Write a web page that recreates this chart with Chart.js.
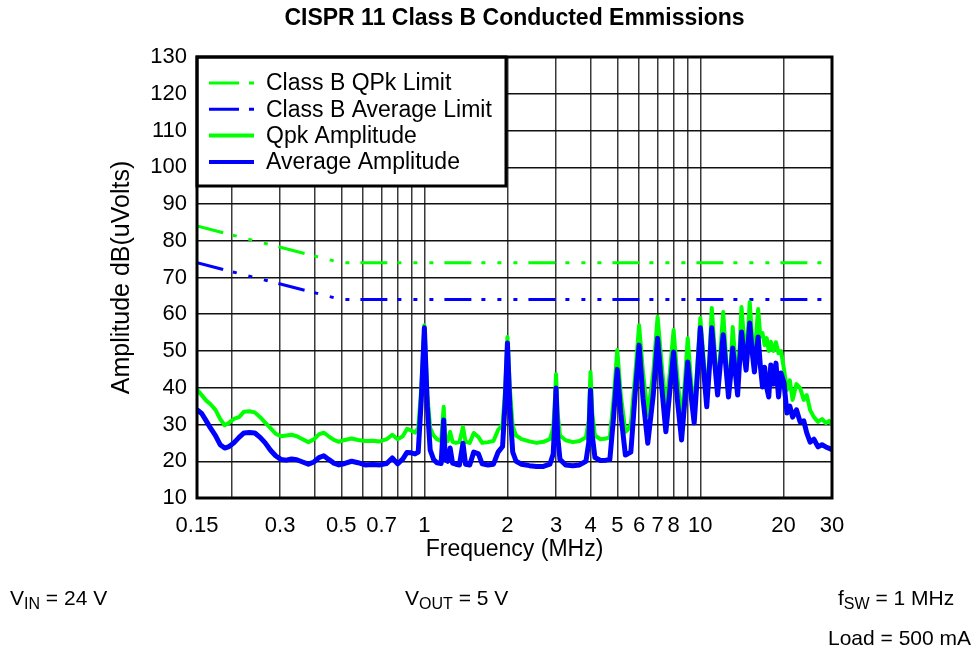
<!DOCTYPE html>
<html>
<head>
<meta charset="utf-8">
<script src="https://cdn.jsdelivr.net/npm/chart.js@4.4.0/dist/chart.umd.min.js"></script>
<style>
  body { margin: 0; background: #fff; }
  #wrap { position: relative; width: 974px; height: 653px; font-family: 'Liberation Sans', Arial, sans-serif; color: #000; }
  .note { position: absolute; font-size: 21px; line-height: 24px; white-space: nowrap; }
  .note sub { font-size: 16px; vertical-align: -4px; }
</style>
</head>
<body>
<div id="wrap">
  <canvas id="emiChart" width="974" height="653"></canvas>
  <div class="note" style="left:10px; top:586px;">V<sub>IN</sub> = 24 V</div>
  <div class="note" style="left:405px; top:586px;">V<sub>OUT</sub> = 5 V</div>
  <div class="note" style="left:838px; top:586px;">f<sub>SW</sub> = 1 MHz</div>
  <div class="note" style="left:828px; top:626px;">Load = 500 mA</div>
</div>
<script>
// frequency points in MHz, shared by both measured traces
const freqs = [
    0.150, 0.156, 0.162, 0.168, 0.175, 0.182, 0.189, 0.196, 0.204, 0.213,
    0.222, 0.232, 0.243, 0.254, 0.265, 0.277, 0.289, 0.302, 0.316, 0.330,
    0.345, 0.362, 0.380, 0.398, 0.415, 0.432, 0.450, 0.470, 0.490, 0.515,
    0.545, 0.575, 0.610, 0.650, 0.690, 0.730, 0.765, 0.800, 0.835, 0.865,
    0.895, 0.925, 0.950, 0.975, 1.000, 1.025, 1.050, 1.080, 1.110, 1.150,
    1.175, 1.190, 1.215, 1.240, 1.265, 1.300, 1.340, 1.380, 1.410, 1.460,
    1.510, 1.570, 1.620, 1.700, 1.780, 1.850, 1.920, 1.965, 2.000, 2.040,
    2.090, 2.150, 2.250, 2.400, 2.550, 2.700, 2.850, 2.930, 2.965, 3.000,
    3.040, 3.100, 3.250, 3.450, 3.650, 3.850, 3.940, 4.000, 4.060, 4.150,
    4.350, 4.550, 4.700, 4.850, 5.000, 5.150, 5.350, 5.450, 5.600, 5.800,
    6.000, 6.200, 6.450, 6.750, 7.000, 7.250, 7.500, 7.750, 8.000, 8.250,
    8.550, 8.800, 9.000, 9.250, 9.500, 9.750, 10.00, 10.30, 10.55, 10.80,
    11.00, 11.30, 11.55, 11.80, 12.10, 12.40, 12.65, 12.90, 13.10, 13.40,
    13.65, 13.90, 14.10, 14.40, 14.65, 14.90, 15.10, 15.40, 15.70, 15.95,
    16.20, 16.50, 16.80, 17.10, 17.40, 17.70, 18.00, 18.40, 18.80, 19.20,
    19.60, 20.10, 20.60, 21.10, 21.60, 22.30, 23.00, 23.70, 24.30, 25.00,
    25.80, 26.70, 27.60, 28.50, 29.30, 30.00
];

const qpkAmp = [
    39.5, 38.0, 36.5, 35.5, 34.0, 31.5, 29.8, 30.5, 31.5, 32.0,
    33.5, 33.6, 33.3, 32.0, 30.5, 29.0, 27.5, 26.8, 27.0, 27.2,
    26.8, 26.0, 25.2, 26.0, 27.3, 27.8, 26.8, 25.8, 25.3, 25.8,
    26.2, 25.8, 25.5, 25.6, 25.4, 26.0, 27.2, 26.0, 26.8, 28.8,
    28.4, 27.8, 29.0, 40.0, 57.0, 38.0, 29.0, 27.0, 26.0, 25.5,
    34.8, 26.0, 25.5, 28.0, 25.3, 25.0, 25.2, 29.3, 25.3, 25.0,
    27.7, 26.6, 25.0, 25.2, 25.5, 28.5, 30.0, 40.0, 53.8, 40.0,
    29.5, 27.0, 26.0, 25.4, 25.0, 25.3, 26.0, 29.0, 35.0, 43.7,
    33.0, 27.0, 25.7, 25.2, 25.5, 26.5, 31.0, 44.3, 33.0, 27.0,
    26.0, 26.2, 26.5, 37.0, 50.3, 38.0, 28.0, 28.5, 30.0, 43.0,
    57.0, 44.0, 32.6, 44.0, 59.3, 46.0, 33.9, 44.0, 55.7, 43.0,
    31.2, 42.0, 53.5, 42.0, 33.1, 46.0, 59.0, 47.0, 37.5, 49.0,
    61.7, 49.0, 39.4, 49.0, 60.6, 48.0, 38.5, 47.0, 56.5, 47.0,
    38.5, 52.0, 62.0, 53.0, 48.4, 56.0, 63.3, 54.0, 47.0, 55.0,
    61.4, 54.0, 54.9, 51.6, 53.5, 50.0, 52.5, 50.0, 52.4, 49.4,
    50.0, 45.0, 39.4, 42.0, 36.7, 41.0, 39.9, 36.7, 38.0, 33.9,
    32.0, 30.7, 31.5, 30.4, 31.0, 29.9
];

const avgAmp = [
    34.0, 33.0, 31.0, 29.0, 27.0, 24.5, 23.6, 24.0, 25.0, 26.5,
    27.7, 27.8, 27.7, 26.5, 25.0, 23.0, 21.5, 20.5, 20.3, 20.6,
    20.4, 19.8, 19.2, 19.8, 21.0, 21.5, 20.5, 19.5, 19.0, 19.4,
    20.0, 19.6, 19.0, 19.1, 19.0, 19.4, 20.9, 19.3, 20.6, 22.4,
    22.3, 22.0, 22.5, 37.0, 56.3, 35.0, 23.0, 20.5, 19.6, 19.4,
    31.2, 20.5, 20.0, 23.6, 19.5, 19.2, 19.0, 24.9, 19.2, 19.0,
    22.5, 22.0, 19.3, 19.0, 19.2, 22.5, 24.0, 37.0, 52.2, 35.0,
    22.5, 20.0, 19.2, 18.8, 18.6, 18.6, 19.2, 22.0, 30.0, 39.9,
    27.0, 20.5, 19.0, 18.8, 19.0, 20.0, 25.0, 39.4, 27.0, 21.0,
    20.2, 20.3, 20.5, 32.0, 45.0, 33.0, 21.7, 22.0, 22.5, 38.0,
    51.6, 37.0, 24.9, 38.0, 53.5, 40.0, 28.0, 39.0, 49.7, 37.0,
    25.8, 37.0, 47.0, 38.0, 30.4, 43.0, 56.3, 44.0, 34.8, 46.0,
    56.3, 46.0, 38.0, 46.0, 54.4, 45.0, 37.5, 44.0, 50.8, 44.0,
    38.0, 48.0, 55.2, 49.0, 44.8, 52.0, 57.6, 50.0, 44.3, 50.0,
    53.8, 46.0, 40.2, 45.6, 40.0, 37.5, 46.2, 41.0, 46.7, 37.5,
    44.0, 41.3, 33.1, 35.0, 32.0, 34.0, 30.7, 31.0, 27.7, 25.2,
    26.0, 23.9, 24.5, 23.9, 23.5, 23.1
];

// CISPR 11 class B limits (dBuV)
const limitFreqs = [0.15, 0.5, 30];
const qpkLimit = [84, 74, 74];
const avgLimit = [74, 64, 64];

// x axis grid and labels
const gridFreqs = [0.15, 0.2, 0.3, 0.4, 0.5, 0.6, 0.7, 0.8, 0.9, 1, 2, 3, 4, 5, 6, 7, 8, 9, 10, 20, 30];
const labelFreqs = [0.15, 0.3, 0.5, 0.7, 1, 2, 3, 4, 5, 6, 7, 8, 10, 20, 30];

const FONT = "'Liberation Sans', Arial, sans-serif";
const limitDash = [27, 10, 4, 12, 4, 12, 4, 11];

function toPoints(xs, ys) {
    return xs.map((x, i) => ({ x: x, y: ys[i] }));
}

const boxPlugin = {
    id: 'boxPlugin',
    afterDraw(chart) {
        const ctx = chart.ctx;
        const a = chart.chartArea;
        ctx.save();

        // title
        ctx.fillStyle = '#000';
        ctx.font = 'bold 23px ' + FONT;
        ctx.textAlign = 'center';
        ctx.textBaseline = 'middle';
        ctx.fillText('CISPR 11 Class B Conducted Emmissions', (a.left + a.right) / 2, 19);

        // legend box
        const lx = a.left, ly = a.top, lw = 309, lh = 129;
        ctx.fillStyle = '#fff';
        ctx.fillRect(lx, ly, lw, lh);
        ctx.lineWidth = 3;
        ctx.strokeStyle = '#000';
        ctx.strokeRect(lx, ly, lw, lh);

        ctx.font = '23px ' + FONT;
        ctx.textAlign = 'left';
        chart.data.datasets.forEach((ds, i) => {
            const y = ly + 26 + i * 26.3;
            ctx.beginPath();
            ctx.strokeStyle = ds.borderColor;
            ctx.lineWidth = ds.borderDash ? 3 : 4;
            ctx.setLineDash(ds.borderDash ? [30, 10, 7, 200] : []);
            ctx.moveTo(lx + 12, y);
            ctx.lineTo(lx + 57, y);
            ctx.stroke();
            ctx.setLineDash([]);
            ctx.fillStyle = '#000';
            ctx.fillText(ds.label, lx + 69, y + 1);
        });

        // plot frame
        ctx.lineWidth = 3;
        ctx.strokeStyle = '#000';
        ctx.strokeRect(a.left, a.top, a.right - a.left, a.bottom - a.top);
        ctx.restore();
    }
};

const ctx = document.getElementById('emiChart').getContext('2d');
const emiChart = new Chart(ctx, {
    type: 'line',
    data: {
        datasets: [{
            label: 'Class B QPk Limit',
            data: toPoints(limitFreqs, qpkLimit),
            borderColor: '#00ff00',
            borderWidth: 3,
            borderDash: limitDash,
            order: 3
        }, {
            label: 'Class B Average Limit',
            data: toPoints(limitFreqs, avgLimit),
            borderColor: '#0000ff',
            borderWidth: 3,
            borderDash: limitDash,
            order: 2
        }, {
            label: 'Qpk Amplitude',
            data: toPoints(freqs, qpkAmp),
            borderColor: '#00ff00',
            borderWidth: 4,
            order: 1
        }, {
            label: 'Average Amplitude',
            data: toPoints(freqs, avgAmp),
            borderColor: '#0000ff',
            borderWidth: 5,
            order: 0
        }]
    },
    options: {
        responsive: false,
        animation: false,
        layout: { padding: { left: 107, top: 57, right: 142, bottom: 90 } },
        elements: {
            point: { radius: 0 },
            line: { tension: 0, borderCapStyle: 'butt', borderJoinStyle: 'round' }
        },
        plugins: {
            legend: { display: false },
            title: { display: false },
            tooltip: { enabled: false }
        },
        scales: {
            x: {
                type: 'logarithmic',
                min: 0.15,
                max: 30,
                afterBuildTicks: (scale) => {
                    scale.ticks = gridFreqs.map(v => ({ value: v }));
                },
                afterFit: (scale) => { scale.height = 65; },
                ticks: {
                    autoSkip: false,
                    maxRotation: 0,
                    padding: 15,
                    color: '#000',
                    font: { family: FONT, size: 22 },
                    callback: (v) => labelFreqs.includes(v) ? String(v) : ''
                },
                grid: { color: '#3a3a3a', lineWidth: 1.5, drawTicks: false },
                border: { display: false },
                title: {
                    display: true,
                    text: 'Frequency (MHz)',
                    color: '#000',
                    font: { family: FONT, size: 23 },
                    padding: 0
                }
            },
            y: {
                min: 10,
                max: 130,
                afterFit: (scale) => { scale.width = 90; },
                ticks: {
                    stepSize: 10,
                    padding: 10,
                    color: '#000',
                    font: { family: FONT, size: 22 }
                },
                grid: { color: '#111', lineWidth: 1.5, drawTicks: false },
                border: { display: false },
                title: {
                    display: true,
                    text: 'Amplitude dB(uVolts)',
                    color: '#000',
                    font: { family: FONT, size: 25 },
                    padding: 0
                }
            }
        }
    },
    plugins: [boxPlugin]
});
</script>
</body>
</html>
